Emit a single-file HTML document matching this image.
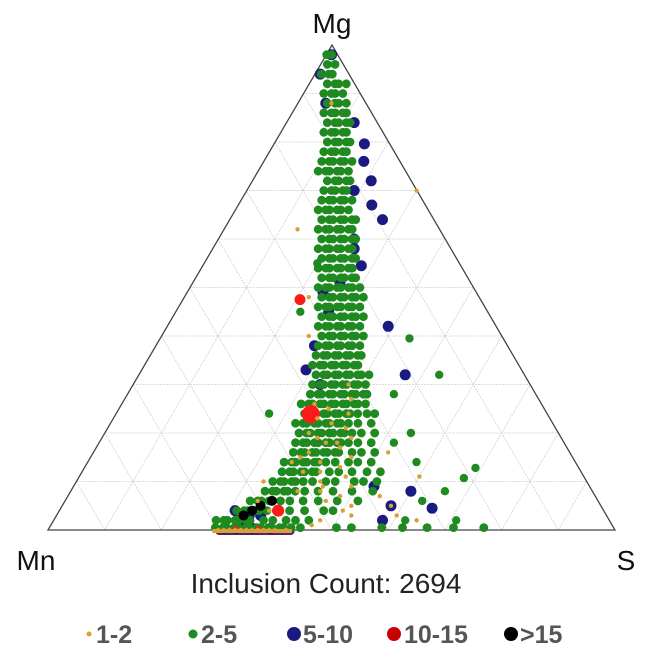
<!DOCTYPE html>
<html><head><meta charset="utf-8"><style>
html,body{margin:0;padding:0;background:#fff;width:650px;height:657px;overflow:hidden}
svg{display:block;font-family:"Liberation Sans",Arial,sans-serif}
</style></head><body>
<svg id="chart" width="650" height="657" viewBox="0 0 650 657" xmlns="http://www.w3.org/2000/svg">
<g id="grid"></g>
<polygon points="48,530 615,530 332,45" fill="none" stroke="#444" stroke-width="1.3"/>
<g id="marks"></g>
<text x="332" y="33" font-size="28" text-anchor="middle" fill="#111">Mg</text>
<text x="36" y="570" font-size="28" text-anchor="middle" fill="#111">Mn</text>
<text x="626" y="570" font-size="28" text-anchor="middle" fill="#111">S</text>
<text x="326" y="593" font-size="28" text-anchor="middle" fill="#222">Inclusion Count: 2694</text>
<g font-size="25" font-weight="bold" fill="#555">
<g><circle cx="89" cy="634" r="2.5" fill="#d9a035"/><text x="96" y="643">1-2</text></g>
<g><circle cx="193" cy="634" r="4.5" fill="#1f8a1f"/><text x="201" y="643">2-5</text></g>
<g><circle cx="294" cy="634" r="7" fill="#1a1a80"/><text x="303" y="643">5-10</text></g>
<g><circle cx="394" cy="634" r="7" fill="#c80000"/><text x="404" y="643">10-15</text></g>
<g><circle cx="511" cy="634" r="7" fill="#000"/><text x="520" y="643">&gt;15</text></g>
</g>
</svg>
<script>
// Data in percent: Mg and S (Mn = 100 - Mg - S)
const greenRowMg = [98,96,94,92,90,88,86,84,82,80,78,76,74,72,70,68,66,64,62,60,58,56,54,52,50,48,46,44,42,40,38,36,34,32,30,28,26,24,22,20,18,16,14,12,10,8,6,4,2,0.5];
const greenRowS = [
 [0.5,1],[1,2],[1.5,2.5,3.5],[3,4,5,6],[4,5,6,7],[5,6,7,8],[6,7,8,9,10],[7,8,9,10,11],[8,9,10,11,12],[9,10,11,12,13],
 [10,11,12,13,14],[10,11,12,13,14,15],[11,12,13,14,15,16],[13,14,15,16,17],[14,15,16,17,18],[14,15,16,17,18,19],[15,16,17,18,19,20],[16,17,18,19,20,21,22],[17,18,19,20,21,22,23],[18,19,20,21,22,23,24],
 [19,20,21,22,23,24,25],[20,21,22,23,24,25,26],[21,22,23,24,25,26,27],[22,23,24,25,26,27,28],[23,24,25,26,27,28,29,30],[24,25,26,27,28,29,30,31],[25,26,27,28,29,30,31,32],[26,27,28,29,30,31,32,33],[27,28,29,30,31,32,33,34],[28,29,30,31,32,33,34,35],
 [29,30,31,32,33,34,35,36],[29,30,31,32,33,34,35,36,37],[30,31,32,33,34,35,36,37,38],[31,32,33,34,35,36,37,38,39,40],[32,33,34,35,36,37,38,39,40,41],[32,33,34,35,36,37,38,39,40,41,42],[32,33,34,35,36,37,38,39,40,41,42,43],[33,34,35,36,37,38,39,40,41,42,44,45],[33,34,35,36,37,38,39,40,41,42,44,46],[34,35,36,37,38,39,40,41,42,43,45,47],
 [35,36,37,38,39,40,41,42,43,44,46,48],[35,36,37,38,39,40,41,42,43,45,47,49],[35,36,37,38,39,40,41,42,44,46,48,50],[35,36,37,38,39,40,41,43,45,47,50,52],[35,36,37,38,39,40,42,44,46,49,51,53],[34,35,36,37,38,39,41,43,46,49,53],[33,34,35,36,37,38,40,42,45,48,52],[31,32,33,34,35,36,38,40,43,46,48],[29,30,31,32,33,34,35,37,39,41,43,45],[29,30,31,32,33,34,35,36,37,38,39,40,41,42,44,50,53,58,62,66,71,76]
];
const greenOutMg = [39.5,32,12.8,10.7,2,2,45,55,24,18,14,6,8,28,20];
const greenOutS  = [44,53,69,68,71,62,22,20,27,52,58,63,66,47,54];
const orangeMg = [30,27,25,24,22,21,20,19,18,17,16,15,14,13,12,11,10,9,8,7,6,5,4,3,2,1,0,0,0,0,0,0,0,0,0,0,0,0,26,23,19,15,12,9,7,5,3,2,62,48,40,88,70,16,11,8,4,6,10,14,18];
const orangeS  = [38,40,37,41,39,42,36,44,40,43,38,46,41,45,39,47,43,49,44,48,46,51,50,52,47,46,30,31,32,33,34,35,36,37,38,39,40,42,34,36,38,37,42,44,55,58,60,64,13,22,26,6,30,52,60,40,37,34,33,36,42];
const blueMg = [79.6,76,72,67,64,60,54.5,51,49,42,32,30,33,88,94,98,9,5,8,4.5,2,2,3,0.3,0.3,0.3,0.3,4,3,70,58,45,38,84];
const blueS  = [16,17.7,21,23.6,27,24,28,26,24,39,47,33,29,5,1,1,53,58,60,65.5,58,33,34,31,33,36,39,31,36,19,25,27,28,12];
const redMg = [47.5,23.9,4,0.2,0.2];
const redS  = [20.7,34.4,38.6,33,37];
const redR  = [5.5,9,6,3,3];
const blackMg = [5,4,6,3];
const blackS  = [35,34,36.5,33];

// Axis functions (ternary -> pixel)
const A = {x:48,y:530}, W = 567, H = 485;
function px(mg,s){ return A.x + (s/100)*W + (mg/100)*W/2; }
function py(mg){ return A.y - (mg/100)*H; }

const NS = "http://www.w3.org/2000/svg";
const grid = document.getElementById('grid');
for (let i=1;i<10;i++){
  const f=i*10;
  const lines=[[px(f,0),py(f),px(f,100-f),py(f)],[px(0,f),py(0),px(100-f,f),py(100-f)],[px(0,100-f),py(0),px(100-f,0),py(100-f)]];
  lines.forEach(l=>{
    const ln=document.createElementNS(NS,'line');
    ln.setAttribute('x1',l[0]);ln.setAttribute('y1',l[1]);ln.setAttribute('x2',l[2]);ln.setAttribute('y2',l[3]);
    ln.setAttribute('stroke','#cfcfcf');ln.setAttribute('stroke-width','0.8');ln.setAttribute('stroke-dasharray','2,1');
    
    
    grid.appendChild(ln);
  });
}
const marks=document.getElementById('marks');
function dot(mg,s,r,fill,name,dx){
  const c=document.createElementNS(NS,'circle');
  c.setAttribute('cx',(px(mg,s)+(dx||0)).toFixed(1));c.setAttribute('cy',py(mg).toFixed(1));
  c.setAttribute('r',r);c.setAttribute('fill',fill);
  
  
  marks.appendChild(c);
}
const bar=document.createElementNS(NS,'rect');
bar.setAttribute('x',px(0,29.5));bar.setAttribute('y',527);bar.setAttribute('width',px(0,43.5)-px(0,29.5));bar.setAttribute('height',8);bar.setAttribute('rx',4);bar.setAttribute('fill','#5a2060');


marks.appendChild(bar);
blueMg.forEach((m,i)=>dot(m,blueS[i],5.5,'#1a1a80','point-5-10'));
greenRowMg.forEach((m,i)=>greenRowS[i].forEach((s,j)=>dot(m,s,4.4,'#1f8a1f','point-2-5',(i%2?2.5:-1)+(j%2?1:-1))));
greenOutMg.forEach((m,i)=>dot(m,greenOutS[i],4.2,'#1f8a1f','point-2-5'));
blackMg.forEach((m,i)=>dot(m,blackS[i],5,'#000','point-gt15'));
redMg.forEach((m,i)=>dot(m,redS[i],redR[i],'#ff1a1a','point-10-15'));
orangeMg.forEach((m,i)=>dot(m,orangeS[i],2.2,'#d9a035','point-1-2'));
const ln2=document.createElementNS(NS,'line');
ln2.setAttribute('x1',px(0,29));ln2.setAttribute('y1',531);ln2.setAttribute('x2',px(0,43));ln2.setAttribute('y2',531);
ln2.setAttribute('stroke','#d9a035');ln2.setAttribute('stroke-width','4');


marks.appendChild(ln2);
</script>
</body></html>
